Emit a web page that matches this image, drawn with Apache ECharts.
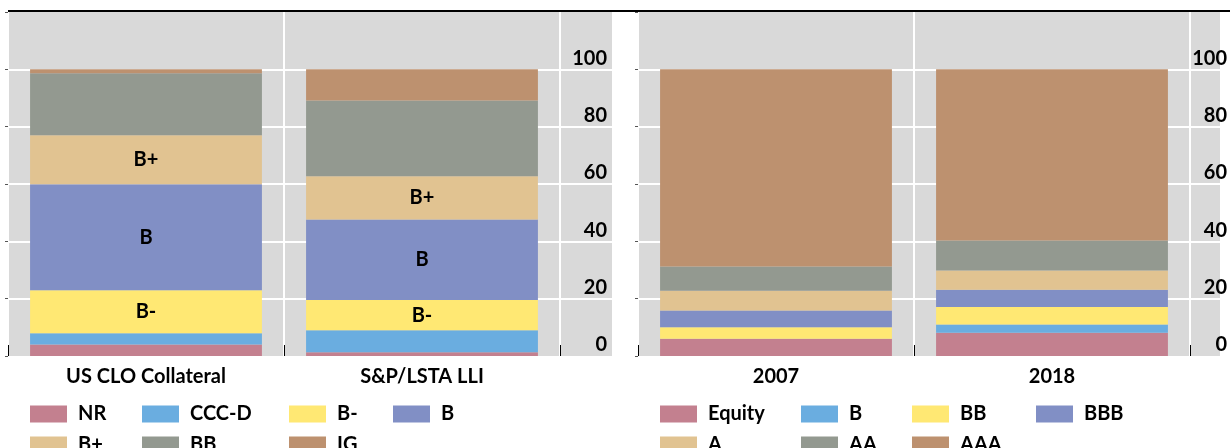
<!DOCTYPE html>
<html>
<head>
    <meta charset="utf-8"/>
    <title>CLO ratings</title>
    <script src="https://cdn.jsdelivr.net/npm/echarts@6/dist/echarts.min.js"></script>
    <style>
        html, body { margin: 0; padding: 0; background: #fff; }
    </style>
</head>
<body>
<div id="chart" style="width: 1230px; height: 448px;"></div>
<script type="text/javascript">
    // left panel: collateral ratings (% of total)
    var leftCats = ['US CLO Collateral', 'S&P/LSTA LLI'];
    var nrVals = [4.0, 1.3];
    var cccdVals = [3.9, 7.7];
    var bMinusVals = [15.0, 10.5];
    var bVals = [37.0, 28.1];
    var bPlusVals = [17.1, 15.1];
    var bbVals = [21.6, 26.4];
    var igVals = [1.4, 10.9];

    // right panel: CLO capital structure (% of total)
    var rightCats = ['2007', '2018'];
    var equityVals = [6.0, 8.1];
    var trBVals = [0, 2.9];
    var trBBVals = [4.0, 6.1];
    var trBBBVals = [5.9, 6.0];
    var trAVals = [6.9, 6.7];
    var trAAVals = [8.4, 10.5];
    var trAAAVals = [68.8, 59.7];

    var yTicks = [0, 20, 40, 60, 80, 100];

    var colors = ['#C3808F', '#6AADE0', '#FFE873', '#818FC5', '#E1C391', '#939990', '#BD916F'];
    var font = 'Lato';
    var weight = 'bold';
    var fsize = 20;

    var leftSeries = [
        ['NR', nrVals], ['CCC-D', cccdVals], ['B-', bMinusVals], ['B', bVals],
        ['B+', bPlusVals], ['BB', bbVals], ['IG', igVals]
    ];
    // right names get a prefix so they do not clash with the left ones in the legends
    var rightSeries = [
        ['r:Equity', equityVals], ['r:B', trBVals], ['r:BB', trBBVals], ['r:BBB', trBBBVals],
        ['r:A', trAVals], ['r:AA', trAAVals], ['r:AAA', trAAAVals]
    ];
    var labelled = ['B-', 'B', 'B+'];

    var chart = echarts.init(document.getElementById('chart'));

    function plotGrid(left, width) {
        return {left: left, top: 12, width: width, height: 344, show: true,
            backgroundColor: '#D9D9D9', borderWidth: 0, containLabel: false};
    }

    // margin is where the right-aligned tick labels end, counted back from the grid's right edge
    function valueAxis(idx, pos, labels, margin) {
        return {
            type: 'value', gridIndex: idx, position: pos, min: 0, max: 120, interval: 20,
            axisLine: {show: false},
            axisTick: {show: !labels, length: 3, lineStyle: {color: '#555'}},
            splitLine: {show: true, showMaxLine: false, showMinLine: false,
                lineStyle: {color: '#fff', width: 2}},
            axisLabel: {
                show: labels, inside: true, margin: margin || 5, showMaxLabel: false,
                verticalAlign: 'bottom', padding: [0, 0, 1, 0],
                fontFamily: font, fontWeight: weight, fontSize: fsize, color: '#000',
                formatter: function (v) { return yTicks.indexOf(v) >= 0 ? String(v) : ''; }
            }
        };
    }

    function catAxis(idx, cats, labels) {
        return {
            type: 'category', gridIndex: idx, data: cats,
            axisLine: {show: false},
            axisTick: {show: labels, inside: true, length: 11, lineStyle: {color: '#000', width: 1}},
            splitLine: {show: labels, lineStyle: {color: '#fff', width: 2}},
            axisLabel: {show: labels, margin: 11, fontFamily: font, fontWeight: weight,
                fontSize: fsize, color: '#000'}
        };
    }

    function legendCol(left, names) {
        return {
            left: left, top: 404, height: 80, orient: 'vertical', padding: 0, itemGap: 11,
            itemWidth: 37, itemHeight: 17, icon: 'rect', data: names,
            formatter: function (n) { return n.replace(/^r:/, ''); },
            textStyle: {fontFamily: font, fontWeight: weight, fontSize: fsize, color: '#000',
                lineHeight: 17, padding: [0, 0, 0, 6]}
        };
    }

    var series = [];
    leftSeries.forEach(function (s, i) {
        series.push({
            name: s[0], type: 'bar', stack: 'L', xAxisIndex: 0, yAxisIndex: 0,
            data: s[1], barWidth: '84%', itemStyle: {color: colors[i]},
            label: {show: labelled.indexOf(s[0]) >= 0, position: 'inside', formatter: '{a}',
                fontFamily: font, fontWeight: weight, fontSize: fsize, color: '#000'}
        });
    });
    rightSeries.forEach(function (s, i) {
        series.push({
            name: s[0], type: 'bar', stack: 'R', xAxisIndex: 2, yAxisIndex: 2,
            data: s[1], barWidth: '84%', itemStyle: {color: colors[i]}
        });
    });

    var option = {
        animation: false,
        grid: [plotGrid(8, 552), plotGrid(560, 52), plotGrid(638, 552), plotGrid(1190, 40)],
        xAxis: [
            catAxis(0, leftCats, true), catAxis(1, [''], false),
            catAxis(2, rightCats, true), catAxis(3, [''], false)
        ],
        yAxis: [
            valueAxis(0, 'left', false), valueAxis(1, 'right', true),
            valueAxis(2, 'left', false), valueAxis(3, 'right', true, -7)
        ],
        legend: [
            legendCol(30, ['NR', 'B+']), legendCol(142, ['CCC-D', 'BB']),
            legendCol(289, ['B-', 'IG']), legendCol(393, ['B']),
            legendCol(660, ['r:Equity', 'r:A']), legendCol(801, ['r:B', 'r:AA']),
            legendCol(912, ['r:BB', 'r:AAA']), legendCol(1036, ['r:BBB'])
        ],
        graphic: [{
            type: 'line', z: 100,
            shape: {x1: 8, y1: 11, x2: 1230, y2: 11},
            style: {stroke: '#000', lineWidth: 2}
        }],
        series: series
    };

    chart.setOption(option);
</script>
</body>
</html>
